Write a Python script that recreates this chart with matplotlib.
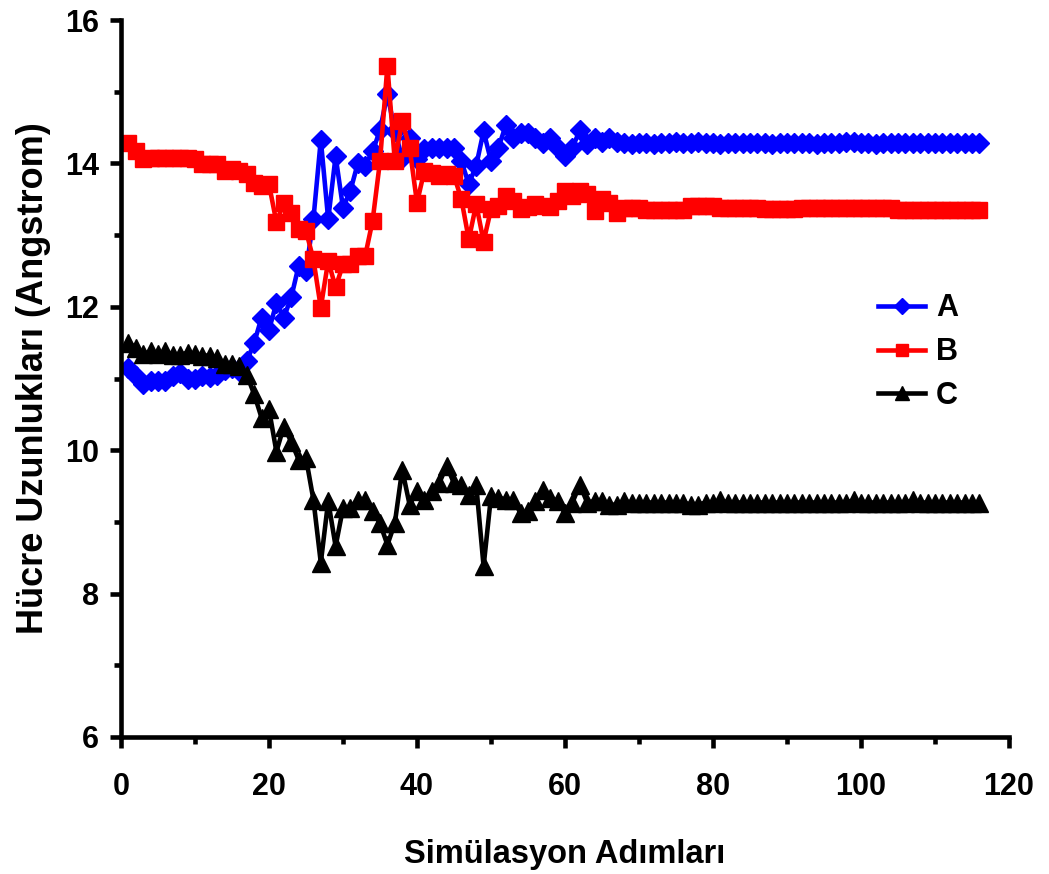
import matplotlib
matplotlib.use("Agg")
import matplotlib.pyplot as plt
from matplotlib.ticker import MultipleLocator

plt.rcParams['font.family'] = ['Liberation Sans', 'DejaVu Sans']
plt.rcParams['font.weight'] = 'bold'

#-------data, x = 1..116-------
steps = list(range(1, 117))

A = [11.15, 11.03, 10.92, 10.97, 10.97, 10.97, 11.03, 11.08, 11.0, 10.99,
     11.04, 11.02, 11.05, 11.12, 11.14, 11.1, 11.24, 11.5, 11.85, 11.68,
     12.05, 11.85, 12.13, 12.57, 12.5, 13.22, 14.33, 13.22, 14.1, 13.38,
     13.62, 14.0, 13.97, 14.17, 14.46, 14.97, 14.45, 14.08, 14.36, 14.06,
     14.2, 14.22, 14.22, 14.22, 14.22, 14.03, 13.71, 13.97, 14.45, 14.03,
     14.22, 14.53, 14.36, 14.43, 14.43, 14.36, 14.29, 14.36, 14.22, 14.11,
     14.22, 14.46, 14.27, 14.36, 14.3, 14.36, 14.3, 14.28, 14.27, 14.28,
     14.28, 14.27, 14.28, 14.28, 14.3, 14.28, 14.29, 14.3, 14.28, 14.28,
     14.27, 14.28, 14.28, 14.28, 14.29, 14.28, 14.28, 14.27, 14.28, 14.28,
     14.28, 14.28, 14.28, 14.27, 14.28, 14.28, 14.29, 14.3, 14.3, 14.28,
     14.28, 14.27, 14.28, 14.28, 14.28, 14.28, 14.29, 14.28, 14.28, 14.28,
     14.28, 14.28, 14.28, 14.28, 14.28, 14.29]

B = [14.29, 14.17, 14.06, 14.08, 14.08, 14.08, 14.08, 14.08, 14.08, 14.06,
     13.99, 13.99, 13.99, 13.9, 13.92, 13.9, 13.85, 13.73, 13.69, 13.71,
     13.18, 13.45, 13.31, 13.08, 13.06, 12.66, 11.99, 12.64, 12.27, 12.59,
     12.59, 12.71, 12.71, 13.2, 14.03, 15.36, 14.03, 14.59, 14.22, 13.45,
     13.9, 13.87, 13.83, 13.85, 13.83, 13.5, 12.94, 13.43, 12.91, 13.36,
     13.41, 13.55, 13.48, 13.36, 13.39, 13.43, 13.41, 13.39, 13.48, 13.62,
     13.55, 13.62, 13.57, 13.34, 13.5, 13.45, 13.31, 13.38, 13.38, 13.38,
     13.35, 13.35, 13.35, 13.35, 13.35, 13.35, 13.41, 13.41, 13.41, 13.41,
     13.38, 13.38, 13.38, 13.38, 13.38, 13.38, 13.36, 13.36, 13.36, 13.36,
     13.36, 13.38, 13.38, 13.38, 13.38, 13.38, 13.38, 13.38, 13.38, 13.38,
     13.38, 13.38, 13.38, 13.38, 13.35, 13.35, 13.35, 13.35, 13.35, 13.35,
     13.35, 13.35, 13.35, 13.35, 13.35, 13.35]

C = [11.5, 11.43, 11.34, 11.38, 11.34, 11.38, 11.33, 11.33, 11.36, 11.34,
     11.32, 11.32, 11.29, 11.2, 11.2, 11.17, 11.05, 10.78, 10.45, 10.57,
     9.98, 10.33, 10.12, 9.87, 9.89, 9.31, 8.43, 9.29, 8.66, 9.19,
     9.2, 9.31, 9.31, 9.15, 8.98, 8.68, 8.98, 9.73, 9.24, 9.43,
     9.31, 9.43, 9.54, 9.78, 9.54, 9.52, 9.38, 9.52, 8.38, 9.36,
     9.34, 9.31, 9.31, 9.12, 9.15, 9.29, 9.45, 9.34, 9.29, 9.12,
     9.27, 9.52, 9.27, 9.29, 9.29, 9.24, 9.24, 9.29, 9.27, 9.27,
     9.27, 9.27, 9.27, 9.27, 9.27, 9.27, 9.24, 9.24, 9.27, 9.27,
     9.3, 9.27, 9.27, 9.27, 9.27, 9.27, 9.27, 9.27, 9.27, 9.27,
     9.27, 9.27, 9.27, 9.27, 9.27, 9.27, 9.27, 9.27, 9.3, 9.27,
     9.27, 9.27, 9.27, 9.27, 9.27, 9.27, 9.3, 9.27, 9.27, 9.27,
     9.27, 9.27, 9.27, 9.27, 9.27, 9.27]

fig = plt.figure(figsize=(10.49, 8.74), dpi=100)
ax = fig.add_axes([121/1049, 137/874, 888/1049, 717/874])

ax.plot(steps, A, color='#0000FF', lw=3.3, marker='D', ms=10, label='A')
ax.plot(steps, B, color='#FF0000', lw=3.3, marker='s', ms=11, label='B')
ax.plot(steps, C, color='black', lw=3.3, marker='^', ms=12.5, label='C')

ax.set_xlim(0, 120)
ax.set_ylim(6, 16)
ax.xaxis.set_major_locator(MultipleLocator(20))
ax.xaxis.set_minor_locator(MultipleLocator(10))
ax.yaxis.set_major_locator(MultipleLocator(2))
ax.yaxis.set_minor_locator(MultipleLocator(1))

for s in ['top', 'right']:
    ax.spines[s].set_visible(False)
for s in ['left', 'bottom']:
    ax.spines[s].set_linewidth(3.3)

ax.tick_params(which='major', length=8, width=3.3, labelsize=22)
ax.tick_params(which='minor', length=5, width=3.3)
ax.tick_params(axis='x', which='major', pad=17)
ax.tick_params(axis='y', which='major', pad=8)

ax.set_xlabel('Simülasyon Adımları', fontsize=23.5, fontweight='bold', labelpad=27)
ax.set_ylabel('Hücre Uzunlukları (Angstrom)', fontsize=26, fontweight='bold', labelpad=10)

ax.legend(loc='center left', bbox_to_anchor=(0.837, 0.597), bbox_transform=fig.transFigure,
          frameon=False, fontsize=22, handlelength=1.55, handletextpad=0.35,
          labelspacing=0.45, borderpad=0, borderaxespad=0, markerscale=0.85)

fig.savefig('out.png', dpi=100)
